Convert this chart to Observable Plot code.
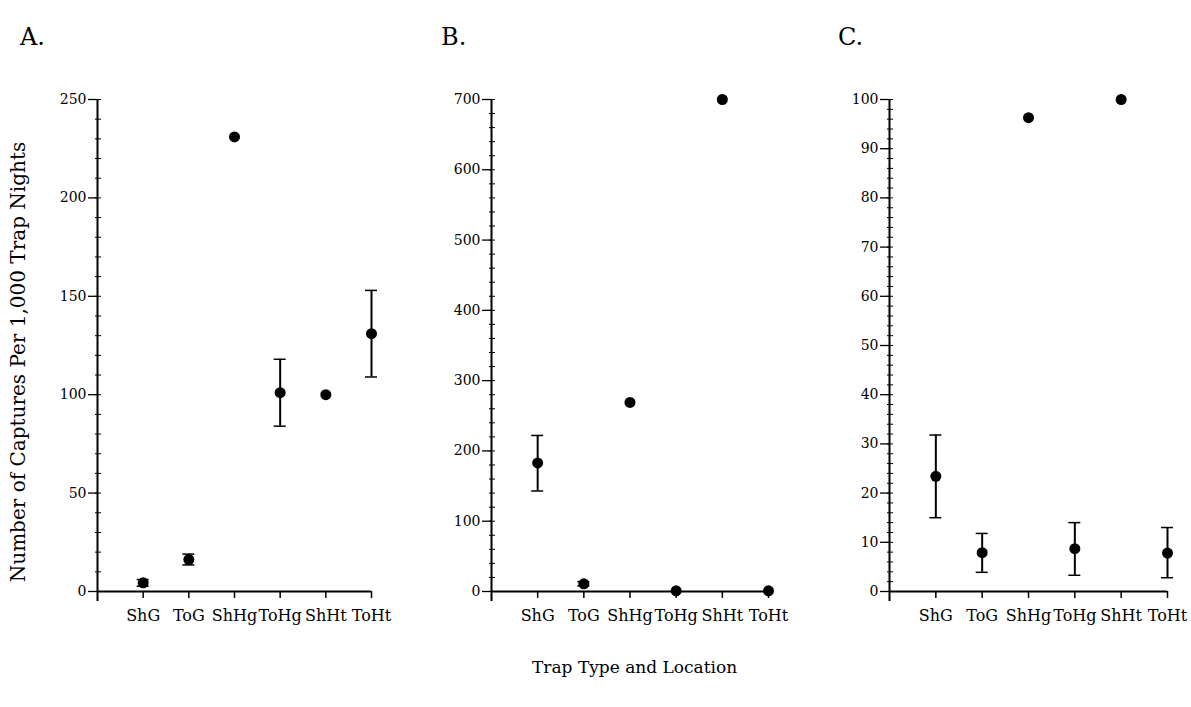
<!DOCTYPE html>
<html>
<head>
<meta charset="utf-8">
<script src="https://cdn.jsdelivr.net/npm/d3@7"></script>
<script src="https://cdn.jsdelivr.net/npm/@observablehq/plot@0.6"></script>
<style>
  body { margin: 0; background: #fff; }
  #fig { position: relative; width: 1191px; height: 707px; overflow: hidden; font-family: "DejaVu Serif", serif; color: #000; background: #fff; }
  .panel { position: absolute; top: 0; }
  .letter { position: absolute; top: 23px; font-size: 24px; line-height: 28px; }
  #xtitle { position: absolute; left: 532px; top: 657px; font-size: 17px; line-height: 20px; white-space: nowrap; }
  #ytitle { position: absolute; width: 560px; left: -262px; top: 351px; text-align: center; font-size: 20px; line-height: 22px; transform: rotate(-90deg); transform-origin: 50% 50%; white-space: nowrap; }
</style>
</head>
<body>
<div id="fig">
  <div class="letter" style="left:20px">A.</div>
  <div class="letter" style="left:441px">B.</div>
  <div class="letter" style="left:838px">C.</div>
  <div id="ytitle">Number of Captures Per 1,000 Trap Nights</div>
  <div id="xtitle">Trap Type and Location</div>
</div>
<script>
// ---- data ----
const categories = ["ShG", "ToG", "ShHg", "ToHg", "ShHt", "ToHt"];

const meanA = [4.4, 16.2, 231, 101, 100, 131];
const lowA  = [2.7, 13.5, null, 84, null, 109];
const highA = [6.1, 19, null, 118, null, 153];

const meanB = [183, 11, 269, 1, 700, 1];
const lowB  = [143, 8, null, null, null, null];
const highB = [222, 14, null, null, null, null];

const meanC = [23.4, 7.9, 96.3, 8.7, 100, 7.8];
const lowC  = [15, 3.9, null, 3.3, null, 2.8];
const highC = [31.8, 11.8, null, 14, null, 13];

const yMaxA = 250, yMaxB = 700, yMaxC = 100;
const majorA = d3.range(0, 251, 50),  minorA = d3.range(0, 251, 10);
const majorB = d3.range(0, 701, 100), minorB = d3.range(0, 701, 20);
const majorC = d3.range(0, 101, 10),  minorC = d3.range(0, 101, 2);

function panel(mean, low, high, yMax, major, minor, innerW, left) {
  const rows = categories.map((c, i) => ({pos: i + 1, cat: c, mean: mean[i], low: low[i], high: high[i]}));
  const errs = rows.filter(d => d.low != null && d.high != null);
  const ticks = rows.map(d => d.pos);
  const mL = 60, mR = 24;
  const chart = Plot.plot({
    width: mL + innerW + mR,
    height: 640,
    marginTop: 99,
    marginBottom: 49,
    marginLeft: mL,
    marginRight: mR,
    style: {fontFamily: "DejaVu Serif, serif", color: "#000", background: "transparent", overflow: "visible"},
    x: {type: "linear", domain: [0, categories.length], axis: null},
    y: {domain: [0, yMax], axis: null},
    marks: [
      // y axis line (extends a bit below zero)
      Plot.ruleX([0], {y1: () => yMax, y2: () => 0, insetBottom: -10, stroke: "#000", strokeWidth: 2}),
      // minor ticks crossing the axis
      Plot.ruleY(minor, {x1: () => 0, x2: () => 0, insetLeft: -2, insetRight: -4, stroke: "#000", strokeWidth: 1}),
      Plot.axisY(major, {tickSize: 9, tickPadding: 2, fontSize: 14, label: null, stroke: "#000", strokeWidth: 1.3}),
      // x axis line
      Plot.ruleY([0], {x1: () => 0, x2: () => categories.length, stroke: "#000", strokeWidth: 2}),
      Plot.axisX(ticks, {tickSize: 7, tickPadding: 11, fontSize: 16, label: null, tickFormat: i => categories[i - 1], strokeWidth: 1.5}),
      // error bars
      Plot.ruleX(errs, {x: "pos", y1: "low", y2: "high", stroke: "#000", strokeWidth: 2}),
      Plot.ruleY(errs, {y: "high", x1: "pos", x2: "pos", insetLeft: -6, insetRight: -6, stroke: "#000", strokeWidth: 1.5}),
      Plot.ruleY(errs, {y: "low", x1: "pos", x2: "pos", insetLeft: -6, insetRight: -6, stroke: "#000", strokeWidth: 1.5}),
      // means
      Plot.dot(rows, {x: "pos", y: "mean", r: 5.5, fill: "#000", stroke: "none"})
    ]
  });
  chart.classList.add("panel");
  chart.style.position = "absolute";
  chart.style.left = left + "px";
  chart.style.top = "0px";
  document.getElementById("fig").appendChild(chart);
}

panel(meanA, lowA, highA, yMaxA, majorA, minorA, 274, 97 - 60);
panel(meanB, lowB, highB, yMaxB, majorB, minorB, 277, 491 - 60);
panel(meanC, lowC, highC, yMaxC, majorC, minorC, 278, 889 - 60);
</script>
</body>
</html>
